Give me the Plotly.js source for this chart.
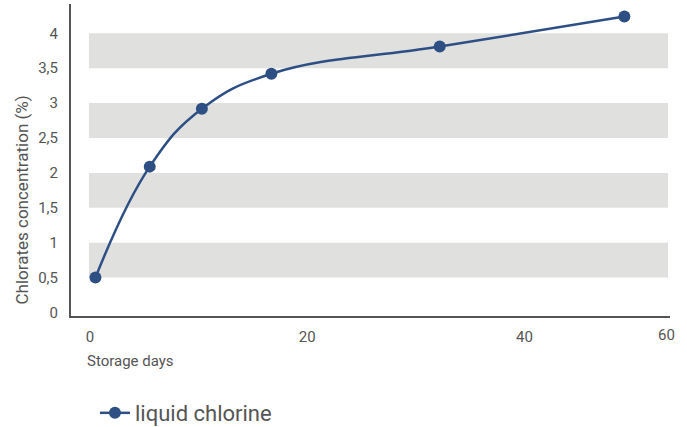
<!DOCTYPE html>
<html>
<head>
<meta charset="utf-8">
<script src="https://cdn.plot.ly/plotly-3.0.1.min.js"></script>
<style>html,body{margin:0;padding:0;background:#fff;}#chart{width:687px;height:427px;}</style>
</head>
<body>
<div id="chart"></div>
<script>
const storageDays = [0.5, 5.5, 10.3, 16.7, 32.2, 49.2];
const chlorates = [0.5, 2.09, 2.92, 3.42, 3.81, 4.24];
const seriesName = "liquid chlorine";
const xTickVals = [0, 20, 40];
const yTickVals = [0, 0.5, 1, 1.5, 2, 2.5, 3, 3.5, 4];
const bandRanges = [[0.5, 1], [1.5, 2], [2.5, 3], [3.5, 4]];

const FONT = "Roboto, 'DejaVu Sans', sans-serif";
const TXT = "#555555";
const BLUE = "#2e4f84";

const trace = {
  x: storageDays, y: chlorates, name: seriesName,
  type: "scatter", mode: "lines+markers",
  line: {color: BLUE, width: 2.5, shape: "spline", smoothing: 1.2},
  marker: {color: BLUE, size: 12}
};

const shapes = bandRanges.map(b => ({
  type: "rect", xref: "paper", yref: "y", x0: 0.03, x1: 0.9967, y0: b[0], y1: b[1],
  fillcolor: "#e0e0df", line: {width: 0}, layer: "below"
}));

const layout = {
  width: 687, height: 427,
  margin: {l: 71, r: 17, t: 4, b: 111, autoexpand: false},
  paper_bgcolor: "#fff", plot_bgcolor: "#fff",
  separators: ",.",
  font: {family: FONT, color: TXT, size: 15},
  showlegend: true,
  legend: {x: 0.04, y: -0.311, xanchor: "left", yanchor: "middle", orientation: "h",
           font: {size: 22, color: TXT, family: FONT}, itemwidth: 30},
  xaxis: {range: [-1.75, 53.4], tickvals: xTickVals, showgrid: false, zeroline: false,
          showline: true, linecolor: "#555", linewidth: 2, ticks: "", ticklabelstandoff: 6,
          tickfont: {size: 15, color: TXT}, fixedrange: true},
  yaxis: {range: [-0.05, 4.42], tickvals: yTickVals, showgrid: false, zeroline: false,
          showline: true, linecolor: "#555", linewidth: 2, ticks: "", ticklabelstandoff: 8,
          tickfont: {size: 15, color: TXT}, fixedrange: true},
  shapes: shapes,
  annotations: [
    {text: "Storage days", xref: "paper", yref: "paper", x: 0.023, y: -0.145, xanchor: "left", yanchor: "middle",
     showarrow: false, font: {size: 15, color: TXT}},
    {text: "Chlorates concentration (%)", xref: "paper", yref: "paper", x: -0.082, y: 0.373, xanchor: "center", yanchor: "middle",
     textangle: -90, showarrow: false, font: {size: 17, color: TXT}},
    {text: "60", xref: "paper", yref: "paper", x: 1, y: -0.062, xanchor: "left", yanchor: "middle", xshift: -14,
     showarrow: false, font: {size: 15, color: TXT}}
  ]
};

Plotly.newPlot("chart", [trace], layout, {displayModeBar: false, staticPlot: true});
</script>
</body>
</html>
